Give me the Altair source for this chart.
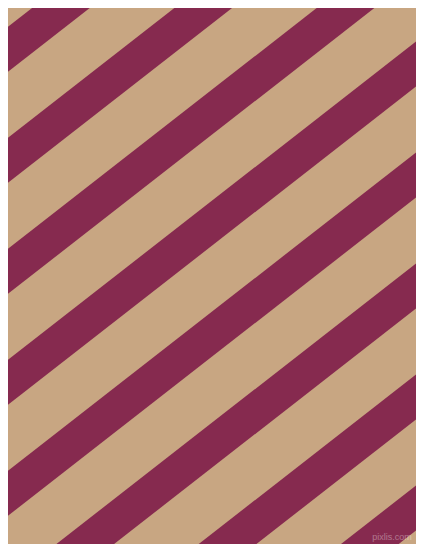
import altair as alt
import pandas as pd

# stripe geometry (image pixel coordinates, y downwards)
stripe_intercepts = [-78, 33, 144, 255, 366, 477, 588, 699, 810, 920]  # y of upper edge at x=0
stripe_slope = 0.78        # rise per pixel to the right
stripe_thickness = 45      # vertical thickness of each maroon band
x_ends = [0, 424]

tan = "#C8A682"
maroon = "#862A4F"

rows = []
for i, c in enumerate(stripe_intercepts):
    for x in x_ends:
        rows.append({"stripe": i, "x": x,
                     "y_top": c - stripe_slope * x,
                     "y_bot": c + stripe_thickness - stripe_slope * x})
df = pd.DataFrame(rows)

xs = alt.Scale(domain=[8, 416], nice=False, zero=False)
ys = alt.Scale(domain=[8, 544], nice=False, zero=False, reverse=True)

stripes = alt.Chart(df).mark_area(color=maroon, clip=True, orient="vertical").encode(
    x=alt.X("x:Q", scale=xs, axis=None),
    y=alt.Y("y_top:Q", scale=ys, axis=None),
    y2="y_bot:Q",
    detail="stripe:N",
)

wm = pd.DataFrame({"x": [392], "y": [537], "t": ["pixlis.com"]})
watermark = alt.Chart(wm).mark_text(
    font="Liberation Sans", fontSize=9, color="white", opacity=0.35, align="center", baseline="middle"
).encode(
    x=alt.X("x:Q", scale=xs, axis=None),
    y=alt.Y("y:Q", scale=ys, axis=None),
    text="t:N",
)

chart = (stripes + watermark).properties(
    width=408, height=536, padding=0, autosize=alt.AutoSizeParams(type="none"),
    background=tan,
).configure_view(stroke=None, fill=tan)

chart.save("out.html", embed_options={"renderer": "svg", "actions": False})
